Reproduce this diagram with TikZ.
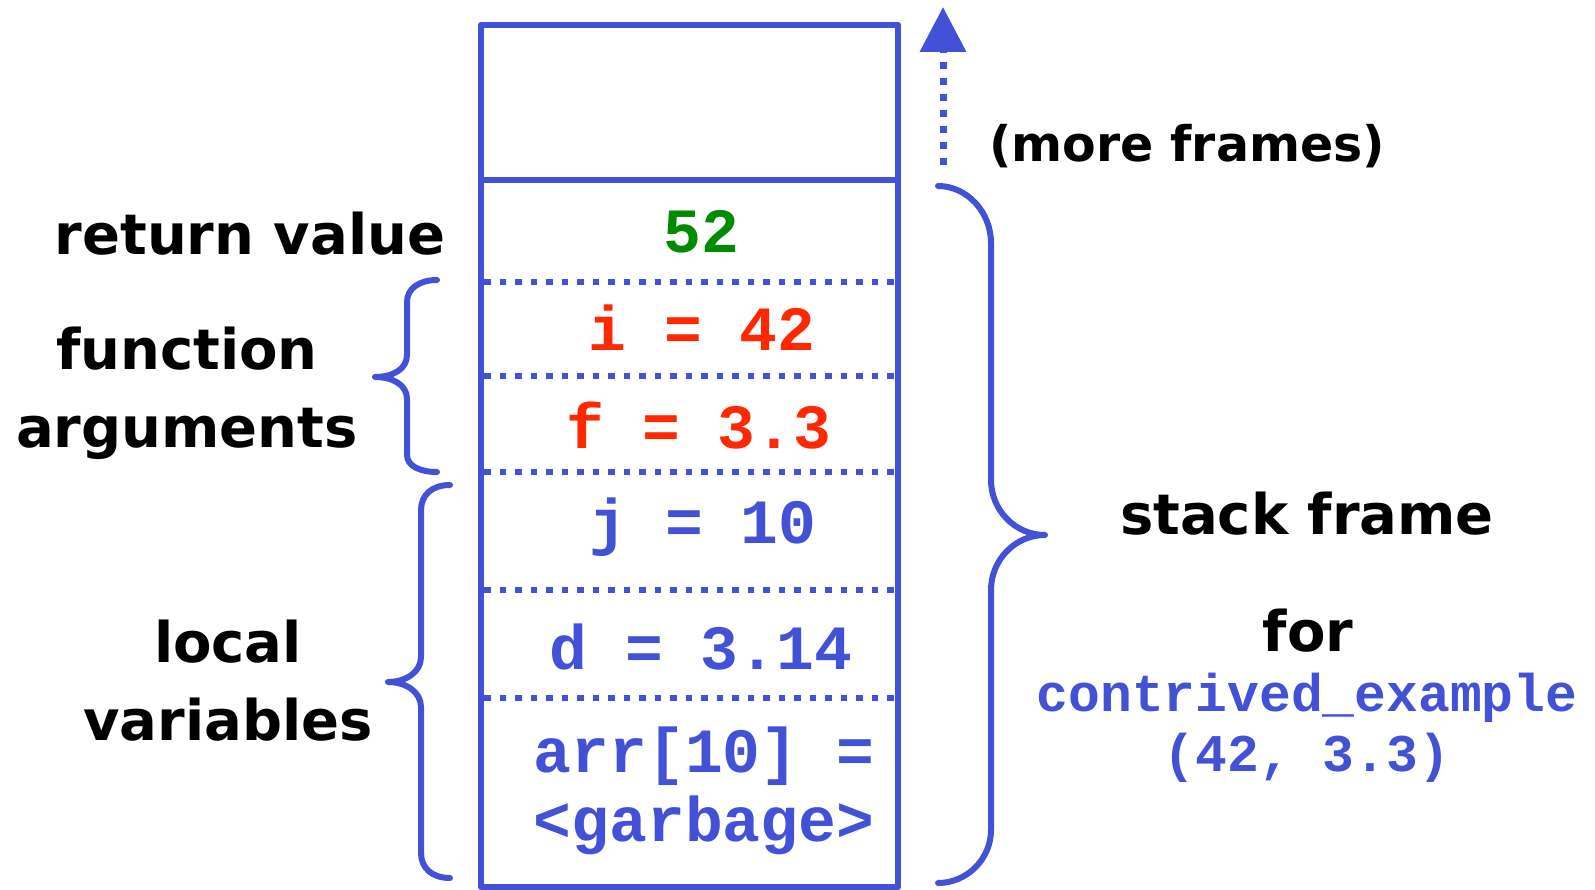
\documentclass[tikz,border=0pt]{standalone}
\usepackage{fontspec}
\newfontfamily\labelfont{DejaVu Sans}
\newfontfamily\codefont{Liberation Mono}
\usetikzlibrary{arrows.meta}
\definecolor{stackblue}{RGB}{67,81,214}
\definecolor{retgreen}{RGB}{0,140,0}
\definecolor{argred}{RGB}{255,40,0}

\begin{document}
\begin{tikzpicture}[x=1pt,y=-1pt,
  lbl/.style={font=\labelfont\bfseries\fontsize{56}{78}\selectfont, align=center, inner sep=0pt},
  code/.style={font=\codefont\bfseries\fontsize{63}{69}\selectfont, align=center, inner sep=0pt, stackblue},
  slot/.style={stackblue, line width=6.5pt, dash pattern=on 6.5pt off 9pt},
  brace/.style={stackblue, line width=6pt, line cap=round, line join=round}]
\useasboundingbox (0,0) rectangle (1595,890);

% the stack
\draw[stackblue, line width=6.5pt, line join=round] (481,25) rectangle (898,887);
\draw[stackblue, line width=6.5pt] (481,180) -- (898,180);
\draw[slot] (484,282) -- (895,282);
\draw[slot] (484,376) -- (895,376);
\draw[slot] (484,472) -- (895,472);
\draw[slot] (484,590) -- (895,590);
\draw[slot] (484,698) -- (895,698);

\node[code, retgreen] (ret) at (701,232) {52};
\node[code, argred] (argi) at (702,328) {i = 42};
\node[code, argred] (argf) at (699,426) {f = 3.3};
\node[code] (locj) at (703,527) {j = 10};
\node[code] (locd) at (701,647) {d = 3.14};
\node[code] (locarr) at (704,791) {arr[10] =\\<garbage>};

% more frames above
\coordinate (more0) at (943,165);
\coordinate (more1) at (943,7);
\draw[stackblue, line width=7pt, dash pattern=on 7pt off 9pt, -{Triangle[width=45pt,length=45pt]}] (more0) -- (more1);
\node[lbl, font=\labelfont\bfseries\fontsize{49}{60}\selectfont] (more) at (1187,146) {(more frames)};

% left side
\node[lbl] (retval) at (250,234) {return value};
\node[lbl] (args) at (187,393) {function\\arguments};
\node[lbl] (locals) at (228,681) {local\\variables};
\draw[brace] (437,280) .. controls (420,280) and (407,288) .. (407,302) -- (407,355)
  .. controls (407,369) and (393,377) .. (375,377) .. controls (393,377) and (407,385) .. (407,399)
  -- (407,455) .. controls (407,466) and (420,472) .. (437,472);
\draw[brace] (450,485) .. controls (432,485) and (421,495) .. (421,510) -- (421,657)
  .. controls (421,672) and (406,682) .. (388,682) .. controls (406,682) and (421,692) .. (421,707)
  -- (421,853) .. controls (421,868) and (432,878) .. (450,878);

% right side
\draw[brace] (938,186) .. controls (967,186) and (991,212) .. (991,243) -- (991,480)
  .. controls (991,510) and (1015,535) .. (1045,535) .. controls (1015,535) and (991,560) .. (991,590)
  -- (991,830) .. controls (991,859) and (967,883) .. (938,883);
\node[lbl] (frame) at (1307,514) {stack frame};
\node[lbl] (for) at (1308,631) {for};
\node[code, font=\codefont\bfseries\fontsize{53}{60}\selectfont] (fname) at (1307,728) {contrived\_example\\(42, 3.3)};

\end{tikzpicture}
\end{document}
